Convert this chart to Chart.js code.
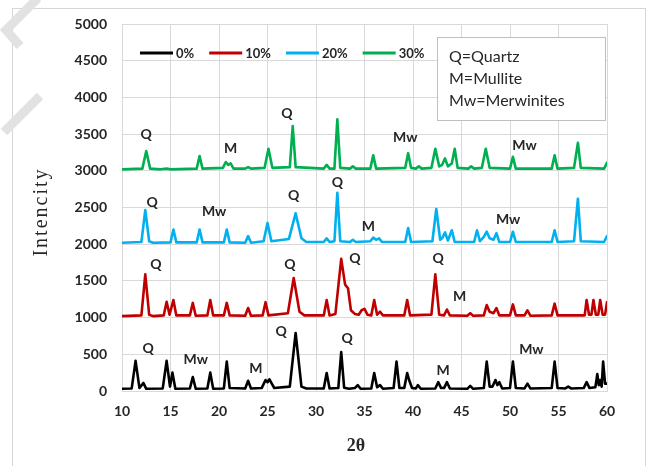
<!DOCTYPE html>
<html><head><meta charset="utf-8">
<script src="https://cdn.jsdelivr.net/npm/chart.js@4.4.1/dist/chart.umd.min.js"></script>
<style>
html,body{margin:0;padding:0;background:#fff;overflow:hidden;}
#wrap{position:relative;width:647px;height:466px;}
#frame{position:absolute;left:12px;top:8px;width:634px;height:470px;border:1px solid #d6d6d6;box-sizing:border-box;}
canvas{position:absolute;left:0;top:0;}
</style></head><body>
<div id="wrap"><div id="frame"></div><canvas id="c" width="647" height="466" style="width:647px;height:466px"></canvas></div>
<script>
// ---- data ----
const seriesNames = ['0%', '10%', '20%', '30%'];
const seriesColors = ['#000000', '#c00000', '#00b0f0', '#00b050'];

const xrd0 = [[10,30],[11.0,35],[11.4,410],[11.8,40],[12.2,110],[12.5,30],
 [14.2,35],[14.6,410],[14.95,60],[15.2,250],[15.5,30],
 [17.0,35],[17.3,190],[17.6,30],[18.8,35],[19.1,250],[19.4,30],
 [20.5,35],[20.8,400],[21.1,40],[22.7,35],[23.0,140],[23.3,35],
 [24.4,40],[24.8,150],[25.0,120],[25.2,160],[25.7,40],
 [27.3,60],[27.9,790],[28.5,60],[29.0,35],
 [30.8,35],[31.1,245],[31.4,35],[32.3,40],[32.6,530],[32.9,45],[33.4,30],
 [34.0,40],[34.3,80],[34.6,30],[35.7,35],[36.0,245],[36.3,50],[36.6,80],[36.9,30],
 [38.0,40],[38.3,400],[38.6,40],[39.1,40],[39.4,245],[39.6,150],[39.9,40],
 [40.3,35],[40.5,80],[40.8,30],[42.3,35],[42.6,120],[42.9,40],[43.2,40],[43.5,120],[43.8,35],
 [45.6,30],[45.9,70],[46.2,30],
 [47.3,40],[47.6,400],[47.9,60],[48.2,60],[48.5,150],[48.7,80],[48.9,120],[49.2,35],
 [50.0,40],[50.3,400],[50.6,40],[51.5,35],[51.8,100],[52.1,35],
 [54.3,40],[54.6,400],[54.9,40],[55.7,35],[56.0,60],[56.3,35],
 [57.6,40],[57.9,120],[58.2,40],
 [58.8,50],[59.0,230],[59.15,80],[59.3,150],[59.45,60],[59.6,400],[59.8,100],[60,100]];

const xrd10 = [[10,1020],[12.0,1030],[12.4,1590],[12.8,1040],[13.2,1020],
 [14.3,1030],[14.6,1215],[14.9,1040],[15.3,1240],[15.6,1030],
 [17.0,1030],[17.3,1200],[17.6,1025],[18.8,1030],[19.1,1240],[19.4,1030],
 [20.5,1030],[20.8,1200],[21.1,1030],[22.7,1025],[23.0,1130],[23.3,1025],
 [24.5,1030],[24.8,1210],[25.1,1030],
 [27.1,1060],[27.7,1540],[28.3,1080],[28.8,1030],
 [30.8,1030],[31.1,1240],[31.4,1030],
 [32.0,1050],[32.6,1800],[33.0,1450],[33.3,1400],[33.6,1100],[34.0,1050],
 [34.4,1040],[34.7,1100],[35.0,1120],[35.3,1040],
 [35.7,1030],[36.0,1240],[36.3,1040],[36.6,1080],[36.9,1030],
 [39.1,1030],[39.4,1240],[39.7,1030],
 [41.9,1040],[42.3,1590],[42.7,1040],[43.2,1030],[43.5,1110],[43.8,1030],
 [45.6,1025],[45.9,1060],[46.2,1025],
 [47.3,1030],[47.6,1170],[47.9,1080],[48.3,1060],[48.6,1130],[48.9,1030],
 [50.0,1030],[50.3,1180],[50.6,1030],[51.5,1030],[51.8,1100],[52.1,1025],
 [54.3,1030],[54.6,1190],[54.9,1030],
 [57.7,1030],[57.9,1240],[58.15,1040],[58.4,1040],[58.6,1240],[58.85,1040],
 [59.1,1040],[59.3,1240],[59.55,1040],[59.8,1040],[60,1210]];

const xrd20 = [[10,2020],[12.0,2030],[12.4,2465],[12.8,2040],[13.2,2020],
 [15.0,2025],[15.3,2200],[15.6,2025],[17.7,2025],[18.0,2200],[18.3,2025],
 [20.5,2025],[20.8,2200],[21.1,2025],[22.7,2020],[23.0,2110],[23.3,2020],
 [24.6,2040],[25.0,2290],[25.4,2040],
 [27.2,2070],[27.9,2420],[28.5,2080],[29.0,2030],
 [30.8,2030],[31.1,2080],[31.4,2030],[31.9,2040],[32.2,2700],[32.5,2040],
 [33.5,2030],[33.8,2060],[34.1,2030],
 [35.6,2040],[35.9,2090],[36.2,2060],[36.5,2080],[36.8,2030],
 [39.2,2030],[39.5,2220],[39.8,2030],
 [42.0,2040],[42.4,2480],[42.8,2060],[43.0,2080],[43.3,2160],[43.6,2050],[44.0,2190],[44.3,2030],
 [46.3,2030],[46.6,2190],[46.9,2040],[47.3,2100],[47.6,2170],[47.9,2080],[48.3,2060],[48.6,2150],[48.9,2030],
 [50.0,2030],[50.3,2170],[50.6,2030],[54.3,2030],[54.6,2190],[54.9,2030],
 [56.6,2040],[57.0,2620],[57.3,2040],[59.7,2030],[60,2110]];

const xrd30 = [[10,3020],[12.1,3030],[12.5,3270],[12.9,3030],
 [14.0,3020],[14.6,3030],[15.0,3020],[17.7,3030],[18.0,3200],[18.3,3030],
 [20.4,3040],[20.7,3120],[20.95,3080],[21.2,3100],[21.5,3030],
 [22.7,3030],[23.0,3050],[23.3,3030],[24.7,3040],[25.1,3300],[25.5,3040],
 [27.3,3050],[27.6,3610],[27.9,3050],
 [30.8,3030],[31.1,3080],[31.4,3030],[31.9,3030],[32.2,3700],[32.5,3040],
 [33.5,3030],[33.8,3060],[34.1,3030],[35.6,3030],[35.9,3210],[36.2,3030],
 [39.2,3040],[39.5,3240],[39.8,3040],[40.3,3030],[40.6,3060],[40.9,3030],
 [41.9,3040],[42.3,3300],[42.7,3060],[43.0,3080],[43.3,3170],[43.6,3060],[44.0,3100],[44.3,3300],[44.6,3040],
 [45.7,3030],[46.0,3060],[46.3,3030],[47.1,3040],[47.5,3300],[47.9,3040],
 [50.0,3030],[50.3,3190],[50.6,3030],[54.3,3030],[54.6,3210],[54.9,3030],
 [56.6,3040],[57.0,3380],[57.3,3040],[59.7,3030],[60,3110]];

const annText  = ['Q','M','Q','Mw','Mw',  'Q','Mw','Q','Q','M','Mw',  'Q','Q','Q','Q','M',  'Q','Mw','M','Q','Q','M','Mw'];
const annTheta = [12.5,21.2,27.0,39.2,51.5, 13.1,19.5,27.7,32.2,35.4,49.8, 13.5,27.3,34.0,42.6,44.8, 12.7,17.6,23.8,26.4,33.2,43.1,52.2];
const annInt   = [3500,3310,3787,3460,3351, 2575,2439,2657,2847,2248,2343, 1730,1717,1812,1812,1281, 586,436,300,817,722,286,572];

const keyLines = ['Q=Quartz', 'M=Mullite', 'Mw=Merwinites'];
const xTitle = '2\u03b8';
const yTitle = 'Intencity';

const allSeries = [xrd0, xrd10, xrd20, xrd30];

// ---- drawing ----
const overlay = {
  id: 'overlay',
  beforeDraw(chart) {
    const ctx = chart.ctx;
    ctx.save();
    ctx.strokeStyle = '#e2e2e2';
    ctx.lineWidth = 9;
    ctx.lineCap = 'butt';
    ctx.beginPath(); ctx.moveTo(38, -2); ctx.lineTo(6, 30); ctx.lineTo(20, 46); ctx.stroke();
    ctx.beginPath(); ctx.moveTo(40, 96); ctx.lineTo(4, 132); ctx.stroke();
    ctx.restore();
  },
  afterDatasetsDraw(chart) {
    const ctx = chart.ctx;
    const xs = chart.scales.x, ys = chart.scales.y;
    ctx.save();
    // annotations
    ctx.fillStyle = '#262626';
    ctx.font = 'bold 14px Lato';
    ctx.textAlign = 'center';
    ctx.textBaseline = 'middle';
    for (let i = 0; i < annText.length; i++) {
      ctx.fillText(annText[i], xs.getPixelForValue(annTheta[i]), ys.getPixelForValue(annInt[i]));
    }
    // series legend
    let lx = 140;
    const ly = 53;
    ctx.font = 'bold 13px Lato';
    ctx.textAlign = 'left';
    chart.data.datasets.forEach(ds => {
      ctx.strokeStyle = ds.borderColor;
      ctx.lineWidth = 3;
      ctx.beginPath(); ctx.moveTo(lx, ly); ctx.lineTo(lx + 33, ly); ctx.stroke();
      ctx.fillStyle = '#262626';
      ctx.fillText(ds.label, lx + 36, ly + 1);
      lx += 36 + ctx.measureText(ds.label).width + 15;
    });
    // key box
    ctx.fillStyle = '#ffffff';
    ctx.fillRect(437, 37, 168, 83);
    ctx.strokeStyle = '#bfbfbf';
    ctx.lineWidth = 1;
    ctx.strokeRect(437.5, 37.5, 168, 83);
    ctx.fillStyle = '#262626';
    ctx.font = '16px Lato';
    keyLines.forEach((t, i) => ctx.fillText(t, 449, 57 + i * 22));
    // axis titles
    ctx.font = 'bold 18px "Liberation Serif"';
    ctx.textAlign = 'center';
    ctx.fillText(xTitle, 356, 446);
    ctx.translate(42, 212);
    ctx.rotate(-Math.PI / 2);
    ctx.font = '20px "Liberation Serif"';
    ctx.letterSpacing = '2px';
    ctx.fillText(yTitle, 0, 0);
    ctx.restore();
  }
};

new Chart(document.getElementById('c'), {
  type: 'line',
  data: {
    datasets: allSeries.map((s, i) => ({
      label: seriesNames[i],
      data: s.map(p => ({x: p[0], y: p[1]})),
      borderColor: seriesColors[i],
      backgroundColor: seriesColors[i],
      borderWidth: 2.6,
      borderJoinStyle: 'round',
      borderCapStyle: 'round',
      pointRadius: 0,
      tension: 0,
      fill: false
    }))
  },
  options: {
    responsive: false,
    animation: false,
    events: [],
    layout: {padding: {top: 24, right: 40, left: 0, bottom: 0}},
    plugins: {legend: {display: false}, tooltip: {enabled: false}},
    scales: {
      x: {
        type: 'linear', min: 10, max: 60,
        afterFit(s) { s.height = 75; },
        grid: {color: '#d9d9d9', drawTicks: false},
        border: {color: '#d9d9d9'},
        ticks: {stepSize: 5, padding: 12, color: '#262626', font: {family: 'Lato', size: 14, weight: 'bold'}, maxRotation: 0,
                callback: v => String(v)}
      },
      y: {
        min: 0, max: 5000,
        afterFit(s) { s.width = 122; },
        grid: {color: '#d9d9d9', drawTicks: false},
        border: {color: '#d9d9d9'},
        ticks: {stepSize: 500, padding: 15, color: '#262626', font: {family: 'Lato', size: 14, weight: 'bold'},
                callback: v => String(v)}
      }
    }
  },
  plugins: [overlay]
});
</script>
</body></html>
